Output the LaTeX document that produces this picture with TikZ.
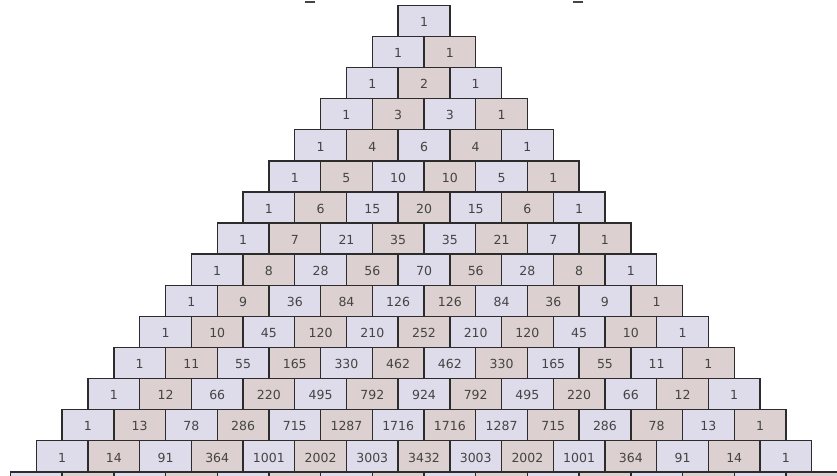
\documentclass[tikz,border=0pt]{standalone}
\usepackage{fontspec}
\newfontfamily\cellfont{DejaVu Sans}
\definecolor{evencell}{HTML}{DEDCEA}
\definecolor{oddcell}{HTML}{DCD0D0}
\definecolor{celledge}{HTML}{2C2C2C}
\definecolor{celltext}{HTML}{444444}
\tikzset{
    cell/.style={draw=celledge, line width=1.4pt, minimum width=51.7pt,
        minimum height=31.1pt, inner sep=0pt},
    cellnum/.style={yshift=-1.2pt, text=celltext,
        font=\cellfont\fontsize{12.5}{14}\selectfont}
}
\begin{document}
\begin{tikzpicture}[x=1pt, y=1pt]

    % 1. Frame of the picture, cutting off the row that runs past its edges
    \useasboundingbox (0,0) rectangle (837,-475);
    \clip (0,0) rectangle (837,-475);

    % 2. Rows of the triangle, each entry built from the one before it
    \foreach \n in {0,...,15} {
        \xdef\binom{1}
        \foreach \k in {0,...,\n} {
            \pgfmathsetmacro{\cx}{424 + (\k - \n/2)*51.7}
            \pgfmathsetmacro{\cy}{-(5.3 + 15.55 + \n*31.1)}
            \ifodd\k
                \node[cell, fill=oddcell] (b-\n-\k) at (\cx,\cy) {};
            \else
                \node[cell, fill=evencell] (b-\n-\k) at (\cx,\cy) {};
            \fi
            % last row only shows the tops of its boxes
            \ifnum\n<15
                \node[cellnum] (t-\n-\k) at (b-\n-\k.center) {\binom};
            \fi
            \xdef\binom{\the\numexpr \binom*(\n-\k)/(\k+1)\relax}
        }
    }

    % 3. Remains of the marks cut off above the picture
    \coordinate (cutl) at (305,-2.2);
    \coordinate (cutr) at (573,-2.2);
    \draw[line width=1.8pt, celltext] (cutl) -- ++(10,0);
    \draw[line width=1.8pt, celltext] (cutr) -- ++(10,0);
\end{tikzpicture}
\end{document}
